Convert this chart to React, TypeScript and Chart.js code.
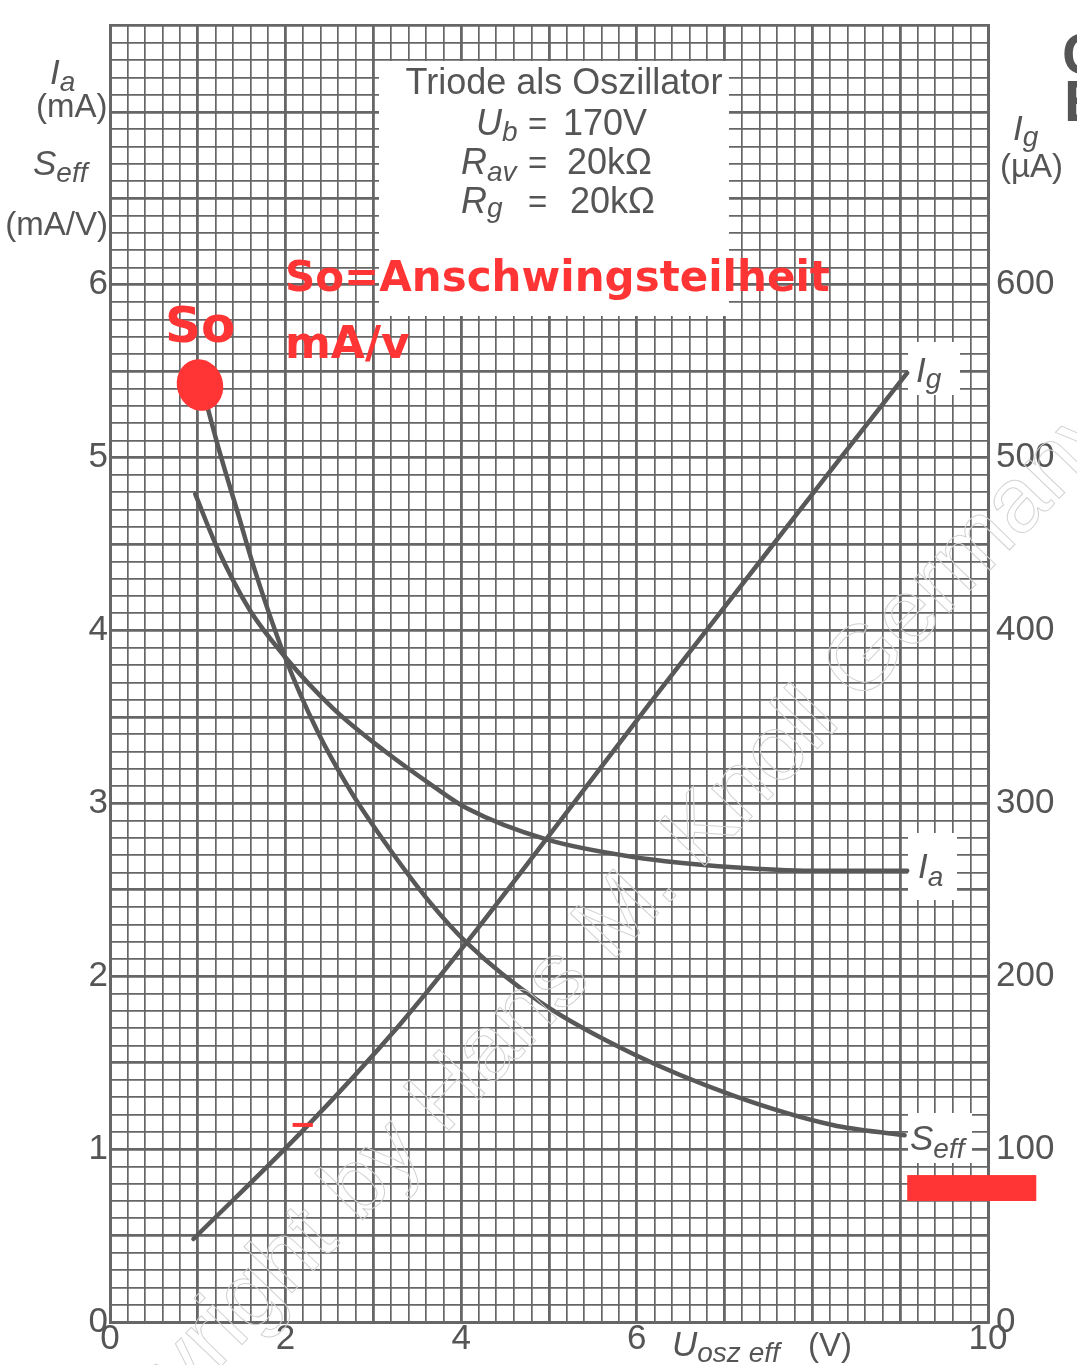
import React, { useEffect, useRef } from "react";
import { Chart, registerables } from "chart.js";
Chart.register(...registerables);

// ---- data (x: U_osz eff in V) ----
const seffX = [1.08, 1.25, 1.45, 1.63, 1.99, 2.36, 2.73, 3.11, 3.64, 4.07, 4.9, 5.96, 7.1, 8.23, 9.05];
const seffY = [5.35, 5.03, 4.69, 4.38, 3.85, 3.42, 3.08, 2.79, 2.43, 2.19, 1.85, 1.55, 1.31, 1.14, 1.08];

const iaX = [0.97, 1.22, 1.59, 1.99, 2.54, 3.11, 3.68, 4.07, 4.98, 5.96, 7.1, 8.0, 9.08];
const iaY = [4.79, 4.48, 4.12, 3.85, 3.55, 3.31, 3.1, 2.97, 2.79, 2.69, 2.63, 2.61, 2.61];

const igX = [0.95, 2.24, 3.3, 4.07, 4.98, 6.15, 7.48, 8.23, 9.08];
const igY = [48, 113, 172, 220, 280, 358, 445, 494, 549]; // µA

const xLabels = [0, 2, 4, 6, 10];
const yLeftLabels = [0, 1, 2, 3, 4, 5, 6];
const yRightLabels = [0, 100, 200, 300, 400, 500, 600];

// annotation anchors in data units
const soPoint = { x: 1.025, y: 5.42 };
const redDash = { x1: 2.08, x2: 2.31, y: 1.14 };
const redBar = { x1: 9.08, x2: 10.55, y1: 0.85, y2: 0.7 };

const TXT = "#555555";
const RED = "#ff3535";
const LINE = "#585858";
const GRID = "#666666";
const FAM = '"Liberation Sans", Arial, sans-serif';
const BOLD_FAM = '"DejaVu Sans", sans-serif';

type Part = { t: string; size: number; dy: number; italic?: boolean };

function rich(ctx: CanvasRenderingContext2D, parts: Part[], x: number, y: number) {
  let cx = x;
  ctx.textAlign = "left";
  ctx.textBaseline = "alphabetic";
  for (const p of parts) {
    ctx.font = `${p.italic ? "italic " : ""}${p.size}px ${FAM}`;
    ctx.fillText(p.t, cx, y + p.dy);
    cx += ctx.measureText(p.t).width;
  }
}

const overlay = {
  id: "overlay",
  beforeDatasetsDraw(chart: any) {
    const ctx: CanvasRenderingContext2D = chart.ctx;
    ctx.save();
    ctx.fillStyle = "#ffffff";
    ctx.fillRect(379, 61, 350, 255); // info box
    ctx.fillRect(908, 342, 52, 53); // Ig label
    ctx.fillRect(908, 833, 49, 67); // Ia label
    ctx.fillRect(908, 1113, 64, 50); // Seff label
    ctx.restore();
  },
  afterDraw(chart: any) {
    const ctx: CanvasRenderingContext2D = chart.ctx;
    const sx = chart.scales.x;
    const sy = chart.scales.y;
    ctx.save();

    // watermark
    ctx.save();
    ctx.translate(866, 662);
    ctx.rotate((-46 * Math.PI) / 180);
    ctx.font = `92px ${FAM}`;
    ctx.strokeStyle = "#d2d2d2";
    ctx.lineWidth = 1;
    ctx.textBaseline = "middle";
    ctx.textAlign = "left";
    const off = ctx.measureText("Copyright by Hans M. Knoll ").width + ctx.measureText("G").width / 2;
    ctx.strokeText("Copyright by Hans M. Knoll Germany", -off, 0);
    ctx.restore();

    ctx.fillStyle = TXT;
    // info box text
    ctx.textAlign = "center";
    ctx.font = `36px ${FAM}`;
    ctx.fillText("Triode als Oszillator", 564, 94);
    rich(ctx, [{ t: "U", size: 36, dy: 0, italic: true }, { t: "b", size: 28, dy: 6, italic: true }], 476, 135);
    rich(ctx, [{ t: "=", size: 33, dy: 0 }], 528, 135);
    rich(ctx, [{ t: "170V", size: 36, dy: 0 }], 563, 135);
    rich(ctx, [{ t: "R", size: 36, dy: 0, italic: true }, { t: "av", size: 28, dy: 7, italic: true }], 461, 174);
    rich(ctx, [{ t: "=", size: 33, dy: 0 }], 528, 174);
    rich(ctx, [{ t: "20kΩ", size: 36, dy: 0 }], 567, 174);
    rich(ctx, [{ t: "R", size: 36, dy: 0, italic: true }, { t: "g", size: 28, dy: 4, italic: true }], 461, 213);
    rich(ctx, [{ t: "=", size: 33, dy: 0 }], 528, 213);
    rich(ctx, [{ t: "20kΩ", size: 36, dy: 0 }], 570, 213);

    // left axis title
    rich(ctx, [{ t: "I", size: 35, dy: 0, italic: true }, { t: "a", size: 28, dy: 7, italic: true }], 50, 84);
    rich(ctx, [{ t: "(mA)", size: 33, dy: 0 }], 36, 117);
    rich(ctx, [{ t: "S", size: 35, dy: 0, italic: true }, { t: "eff", size: 28, dy: 7, italic: true }], 33, 175);
    ctx.textAlign = "right";
    ctx.font = `33px ${FAM}`;
    ctx.fillText("(mA/V)", 108, 235);

    // right axis title
    rich(ctx, [{ t: "I", size: 35, dy: 0, italic: true }, { t: "g", size: 28, dy: 6, italic: true }], 1013, 140);
    rich(ctx, [{ t: "(µA)", size: 33, dy: 0 }], 1000, 177);

    // x axis title
    rich(ctx, [{ t: "U", size: 35, dy: 0, italic: true }, { t: "osz eff", size: 28, dy: 6, italic: true }], 672, 1356);
    rich(ctx, [{ t: "(V)", size: 33, dy: 0 }], 808, 1356);

    // curve labels
    rich(ctx, [{ t: "I", size: 35, dy: 0, italic: true }, { t: "g", size: 28, dy: 6, italic: true }], 916, 382);
    rich(ctx, [{ t: "I", size: 35, dy: 0, italic: true }, { t: "a", size: 28, dy: 8, italic: true }], 918, 878);
    rich(ctx, [{ t: "S", size: 35, dy: 0, italic: true }, { t: "eff", size: 28, dy: 8, italic: true }], 910, 1150);

    // cut-off glyphs at top right
    ctx.font = `bold 58px ${FAM}`;
    ctx.textAlign = "left";
    ctx.fillText("C", 1062, 74);
    ctx.fillText("E", 1064, 121);

    // red annotations
    ctx.fillStyle = RED;
    ctx.strokeStyle = RED;
    ctx.textAlign = "left";
    ctx.font = `bold 42px ${BOLD_FAM}`;
    ctx.fillText("So=Anschwingsteilheit", 285, 291);
    ctx.font = `bold 44px ${BOLD_FAM}`;
    ctx.fillText("mA/v", 285, 358);
    ctx.font = `bold 50px ${BOLD_FAM}`;
    ctx.fillText("So", 165, 342);

    const bx = sx.getPixelForValue(soPoint.x);
    const by = sy.getPixelForValue(soPoint.y);
    ctx.beginPath();
    ctx.ellipse(bx, by, 23, 26, -0.3, 0, Math.PI * 2);
    ctx.fill();

    ctx.lineWidth = 4;
    ctx.beginPath();
    ctx.moveTo(sx.getPixelForValue(redDash.x1), sy.getPixelForValue(redDash.y));
    ctx.lineTo(sx.getPixelForValue(redDash.x2), sy.getPixelForValue(redDash.y));
    ctx.stroke();

    const rx1 = sx.getPixelForValue(redBar.x1);
    const rx2 = sx.getPixelForValue(redBar.x2);
    const ry1 = sy.getPixelForValue(redBar.y1);
    const ry2 = sy.getPixelForValue(redBar.y2);
    ctx.fillRect(rx1, ry1, rx2 - rx1, ry2 - ry1);

    ctx.restore();
  },
};

const near = (v: number, step: number) => Math.abs(v / step - Math.round(v / step)) < 1e-6;

export default function App() {
  const ref = useRef<HTMLCanvasElement | null>(null);
  useEffect(() => {
    if (!ref.current) return;
    const mk = (xs: number[], ys: number[]) => xs.map((x, i) => ({ x, y: ys[i] }));
    const ds = (data: any[], axis: string) => ({
      data,
      yAxisID: axis,
      showLine: true,
      borderColor: LINE,
      borderWidth: 4.5,
      pointRadius: 0,
      cubicInterpolationMode: "monotone" as const,
      borderCapStyle: "round" as const,
      borderJoinStyle: "round" as const,
      fill: false,
    });
    const chart = new Chart(ref.current, {
      type: "scatter",
      data: {
        datasets: [
          ds(mk(seffX, seffY), "y"),
          ds(mk(iaX, iaY), "y"),
          ds(mk(igX, igY), "y2"),
        ],
      },
      plugins: [overlay],
      options: {
        responsive: false,
        animation: false,
        events: [],
        layout: { padding: { top: 8, left: 0, right: 0, bottom: 0 } },
        plugins: { legend: { display: false }, tooltip: { enabled: false } },
        scales: {
          x: {
            type: "linear",
            position: "bottom",
            min: 0,
            max: 10,
            afterFit: (s: any) => {
              s.height = 43;
            },
            ticks: {
              stepSize: 0.2,
              autoSkip: false,
              maxRotation: 0,
              padding: 0,
              color: TXT,
              font: { family: FAM, size: 35, lineHeight: 1 },
              callback: (v: any) => {
                const r = Math.round(Number(v) * 10) / 10;
                return xLabels.includes(r) ? String(r) : "";
              },
            },
            grid: {
              color: GRID,
              drawTicks: false,
              lineWidth: (c: any) => (c.tick && near(c.tick.value, 1) ? 2.8 : 1.7),
            },
            border: { display: true, color: GRID, width: 3 },
          },
          y: {
            type: "linear",
            position: "left",
            min: 0,
            max: 7.5,
            afterFit: (s: any) => {
              s.width = 110;
            },
            ticks: {
              stepSize: 0.1,
              autoSkip: false,
              padding: 2,
              color: TXT,
              font: { family: FAM, size: 35, lineHeight: 1 },
              callback: (v: any) => {
                const r = Math.round(Number(v) * 10) / 10;
                return yLeftLabels.includes(r) ? String(r) : "";
              },
            },
            grid: {
              color: GRID,
              drawTicks: false,
              lineWidth: (c: any) => (c.tick && near(c.tick.value, 0.5) ? 2.8 : 1.7),
            },
            border: { display: true, color: GRID, width: 3 },
          },
          y2: {
            type: "linear",
            position: "right",
            min: 0,
            max: 750,
            afterFit: (s: any) => {
              s.width = 89;
            },
            ticks: {
              stepSize: 100,
              autoSkip: false,
              padding: 8,
              color: TXT,
              font: { family: FAM, size: 35, lineHeight: 1 },
              callback: (v: any) => {
                const r = Math.round(Number(v));
                return yRightLabels.includes(r) ? String(r) : "";
              },
            },
            grid: { display: false, drawTicks: false },
            border: { display: true, color: GRID, width: 3 },
          },
        },
      },
    });
    return () => chart.destroy();
  }, []);
  return (
    <div style={{ position: "absolute", left: 0, top: 0, width: 1077, height: 1365, background: "#fff" }}>
      <canvas ref={ref} width={1077} height={1365} style={{ display: "block", width: 1077, height: 1365 }} />
    </div>
  );
}
